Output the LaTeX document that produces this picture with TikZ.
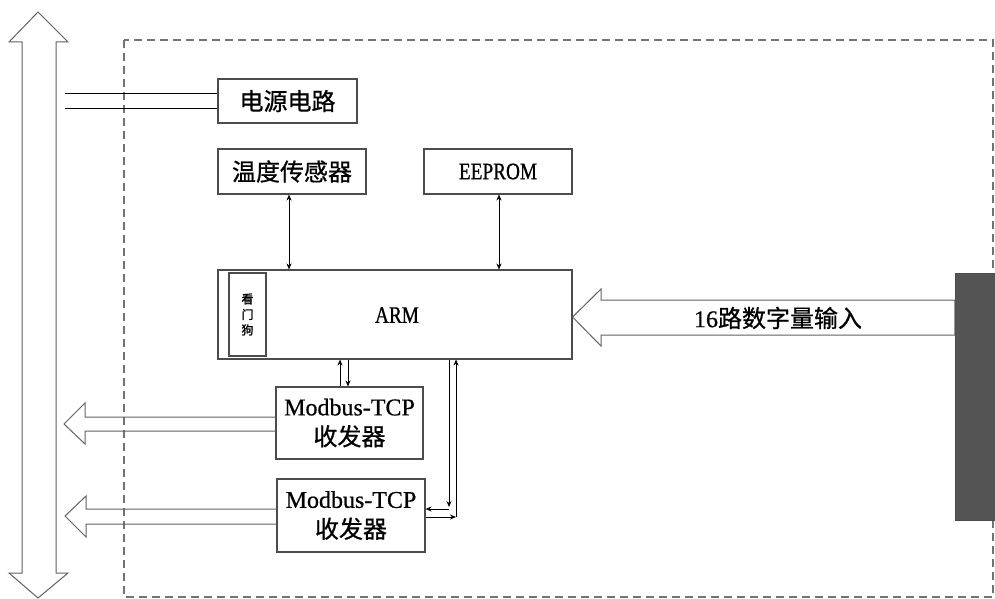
\documentclass[tikz,border=0pt]{standalone}
\usepackage{fontspec}
\setmainfont[FakeBold=0.6]{Liberation Serif}
\newfontfamily\cjk[FakeBold=0.8]{Noto Sans CJK SC}
\newfontfamily\cjkb[FakeBold=1.5]{Noto Sans CJK SC}
\newfontfamily\condser[FakeStretch=0.82,FakeBold=0.8]{Liberation Serif}
\usetikzlibrary{arrows.meta}
\begin{document}
\begin{tikzpicture}[x=1pt,y=-1pt,
  box/.style={draw=black!70, line width=1.1pt, fill=white, inner sep=0pt, align=center},
  arr/.style={black, line width=0.8pt, -{Stealth[length=6pt,width=5pt]}},
  dbl/.style={black, line width=0.8pt, {Stealth[length=6pt,width=5pt]}-{Stealth[length=6pt,width=5pt]}},
  fat/.style={draw=black!62, line width=1pt},
  dashrect/.style={draw=black!55, line width=1.2pt, dash pattern=on 8pt off 5pt},
  cjktext/.style={font=\cjk\fontsize{24}{30}\selectfont}
]
\useasboundingbox (0,0) rectangle (995,599);
\fill[white] (0,0) rectangle (995,599);

% dashed enclosure
\draw[dashrect] (124,40) rectangle (993,597);

% system bus (double arrow)
\draw[fat, fill=white] (38,12) -- (68,42) -- (56,42) -- (56,573) -- (68,573) -- (38,598)
  -- (9,573) -- (22,573) -- (22,42) -- (9,42) -- cycle;
\coordinate (busR) at (65,101);

% boxes
\node[box, minimum width=139pt, minimum height=44pt, cjktext] (pw) at (287.5,101) {电源电路};
\node[box, minimum width=148pt, minimum height=45pt, cjktext] (temp) at (292,171.5) {温度传感器};
\node[box, minimum width=148pt, minimum height=45pt, font=\condser\fontsize{23.5}{26}\selectfont] (ee) at (498,171.5) {EEPROM};
\node[box, minimum width=354pt, minimum height=89pt] (arm) at (395,314.5) {};
\node[font=\condser\fontsize{23.5}{26}\selectfont] (armt) at (397,315) {ARM};
\node[box, minimum width=37pt, minimum height=83pt, font=\cjkb\fontsize{12}{15.5}\selectfont] (wd) at (247.5,314.5) {看\\门\\狗};
\node[box, minimum width=147pt, minimum height=72pt, font=\fontsize{24}{30}\selectfont] (mb1) at (349.5,423) {Modbus-TCP\\{\cjk 收发器}};
\node[box, minimum width=148pt, minimum height=73pt, font=\fontsize{24}{30}\selectfont] (mb2) at (351,515.5) {Modbus-TCP\\{\cjk 收发器}};

% power lines
\draw[black, line width=0.9pt] ([yshift=7.5pt]pw.west) -- ([yshift=7.5pt]pw.west -| busR);
\draw[black, line width=0.9pt] ([yshift=-7.5pt]pw.west) -- ([yshift=-7.5pt]pw.west -| busR);

% sensor / eeprom links
\draw[dbl] ([xshift=-3pt]temp.south) -- ([xshift=-3pt]temp.south |- arm.north);
\draw[dbl] ([xshift=1pt]ee.south) -- ([xshift=1pt]ee.south |- arm.north);

% ARM <-> Modbus 1
\draw[arr] ([xshift=-9.5pt]mb1.north) -- ([xshift=-9.5pt]mb1.north |- arm.south);
\draw[arr] ([xshift=-1.5pt]mb1.north |- arm.south) -- ([xshift=-1.5pt]mb1.north);

% ARM <-> Modbus 2
\coordinate (c1) at (449,509);
\coordinate (c1t) at (449,507);
\coordinate (c2) at (456,517);
\draw[arr] (c1t |- arm.south) -- (c1t);
\draw[arr] (c1) -- (c1 -| mb2.east);
\draw[arr] (c2 -| mb2.east) -- (c2);
\draw[arr] (c2) -- (c2 |- arm.south);

% outgoing fat arrows to bus
\draw[fat] (mb1.west |- 0,417) -- (85,417) -- (85,403) -- (64,424) -- (85,444) -- (85,431) -- (mb1.west |- 0,431);
\draw[fat] (mb2.west |- 0,509) -- (86,509) -- (86,496) -- (65,516) -- (86,537) -- (86,524) -- (mb2.west |- 0,524);

% input connector and fat input arrow
\node[draw=black!70, fill=black!67, minimum width=40pt, minimum height=247pt, inner sep=0pt] (conn) at (975,396.5) {};
\draw[fat, fill=white] (arm.east |- 0,317) -- (601,289) -- (601,300) -- (conn.west |- 0,300)
  -- (conn.west |- 0,335) -- (601,335) -- (601,346) -- cycle;
\node[font=\fontsize{24}{30}\selectfont] (inlab) at (778,318) {16{\cjk 路数字量输入}};
\end{tikzpicture}
\end{document}
